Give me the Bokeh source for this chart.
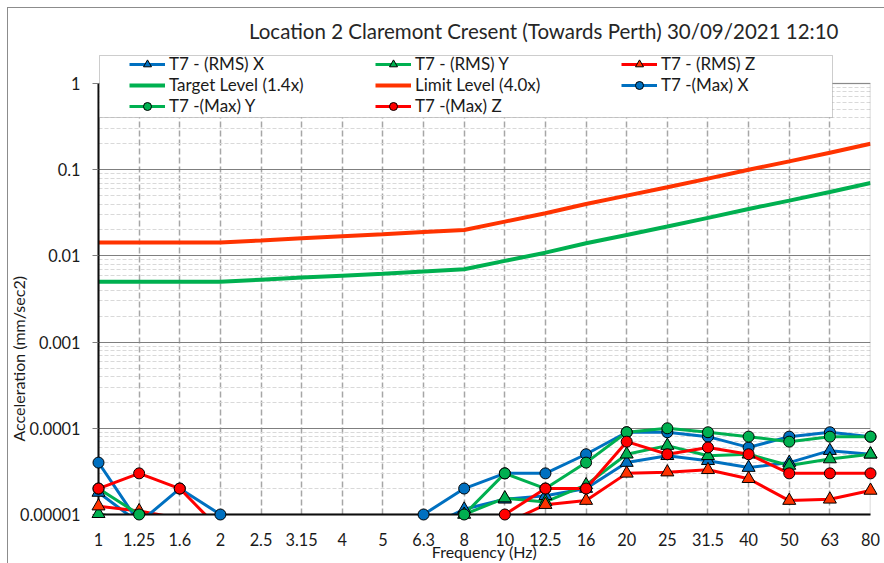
import math
from bokeh.plotting import figure
from bokeh.models import (Range1d, FixedTicker, Legend, LegendItem, Title,
                          BoxAnnotation, ColumnDataSource, InlineStyleSheet)
from bokeh.embed import file_html
from bokeh.resources import INLINE

# ---------------- data ----------------
freq_labels = ["1", "1.25", "1.6", "2", "2.5", "3.15", "4", "5", "6.3", "8",
               "10", "12.5", "16", "20", "25", "31.5", "40", "50", "63", "80"]

rms_x = [1.8e-5, 8e-6, 5e-6, 5e-6, 5e-6, 5e-6, 5e-6, 5e-6, 6.8e-6, 1.15e-5,
         1.5e-5, 1.65e-5, 2.0e-5, 4.0e-5, 4.8e-5, 4.2e-5, 3.5e-5, 4.0e-5, 5.5e-5, 5.0e-5]
rms_y = [1.02e-5, 8e-6, 5e-6, 5e-6, 5e-6, 5e-6, 5e-6, 5e-6, 5e-6, 1.0e-5,
         1.55e-5, 1.4e-5, 2.2e-5, 5.0e-5, 6.3e-5, 4.8e-5, 5.0e-5, 3.7e-5, 4.4e-5, 5.0e-5]
rms_z = [1.25e-5, 1.1e-5, 9e-6, 5e-6, 5e-6, 5e-6, 5e-6, 5e-6, 5e-6, 5e-6,
         7.8e-6, 1.3e-5, 1.45e-5, 3.0e-5, 3.1e-5, 3.3e-5, 2.6e-5, 1.45e-5, 1.5e-5, 1.9e-5]
target = [0.005, 0.005, 0.005, 0.005, 0.0053, 0.0056, 0.0059, 0.0062, 0.0066, 0.007,
          0.00875, 0.0109, 0.014, 0.0175, 0.0219, 0.0276, 0.035, 0.0438, 0.0551, 0.07]
limit = [0.0143, 0.0143, 0.0143, 0.0143, 0.0151, 0.016, 0.0169, 0.0178, 0.0189, 0.02,
         0.025, 0.0313, 0.04, 0.05, 0.0625, 0.0788, 0.1, 0.125, 0.1575, 0.2]
max_x = [4e-5, 8e-6, 2e-5, 1e-5, 8e-6, 8e-6, 8e-6, 8e-6, 1e-5, 2e-5,
         3e-5, 3e-5, 5e-5, 9e-5, 9e-5, 8e-5, 6e-5, 8e-5, 9e-5, 8e-5]
max_y = [2e-5, 1e-5, 8e-6, 5e-6, 5e-6, 5e-6, 5e-6, 5e-6, 5e-6, 1e-5,
         3e-5, 2e-5, 4e-5, 9e-5, 1e-4, 9e-5, 8e-5, 7e-5, 8e-5, 8e-5]
max_z = [2e-5, 3e-5, 2e-5, 6.6e-6, 5e-6, 5e-6, 5e-6, 5e-6, 5e-6, 5e-6,
         1e-5, 2e-5, 2e-5, 7e-5, 5e-5, 6e-5, 5e-5, 3e-5, 3e-5, 3e-5]

y_ticks = [1e-5, 1e-4, 1e-3, 1e-2, 1e-1, 1.0]
y_tick_labels = ["0.00001", "0.0001", "0.001", "0.01", "0.1", "1"]
Y_MIN, Y_MAX = 1e-5, 1.0

title_text = "Location 2 Claremont Cresent (Towards Perth) 30/09/2021 12:10"
FONT = "Lato"

BLUE = "#0070C0"
GREEN = "#00B050"
RED = "#FF0000"
ORANGE = "#FF3300"

# ---------------- figure ----------------
# the frame reaches a bit above the top of the value axis so that the legend,
# which overlaps the top of the plot area, can be drawn inside it
p = figure(width=884, height=563, title=title_text,
           x_range=Range1d(0, len(freq_labels) - 1), y_range=Range1d(Y_MIN, 2.547),
           y_axis_type="log", output_backend="svg", toolbar_location=None,
           min_border_left=98, min_border_right=14, min_border_top=48,
           min_border_bottom=49)
p.background_fill_color = "white"
p.border_fill_color = "white"
p.outline_line_color = None

p.title.text_font = FONT
p.title.text_font_size = "20.5px"
p.title.text_font_style = "normal"
p.title.text_color = "#262626"
p.title.align = "right"
p.title.offset = 32
p.title.standoff = 12

xs = list(range(len(freq_labels)))
minor = [m * 10.0 ** e for e in range(-5, 0) for m in range(2, 10)]
yt = FixedTicker(ticks=y_ticks, minor_ticks=minor)
xt = FixedTicker(ticks=xs)

xax = p.xaxis[0]
yax = p.yaxis[0]
xax.ticker = xt
p.xgrid.ticker = xt
yax.ticker = yt
p.ygrid.ticker = yt
xax.major_label_overrides = {i: lab for i, lab in enumerate(freq_labels)}
yax.major_label_overrides = {t: lab for t, lab in zip(y_ticks, y_tick_labels)}
yax.bounds = (Y_MIN, Y_MAX)

for ax in (xax, yax):
    ax.axis_line_color = "black"
    ax.axis_line_width = 2
    ax.minor_tick_line_color = None
    ax.major_label_text_font = FONT
    ax.major_label_text_font_size = "16.3px"
    ax.major_label_text_color = "#1a1a1a"
xax.major_tick_line_color = None
xax.major_label_standoff = 12
xax.axis_label = "Frequency (Hz)"
xax.axis_label_standoff = -7
xax.axis_label_text_font = FONT
xax.axis_label_text_font_size = "16px"
xax.axis_label_text_font_style = "normal"
xax.axis_label_text_color = "#1a1a1a"
yax.major_tick_line_color = "#7f7f7f"
yax.major_tick_out = 6
yax.major_tick_in = 0
yax.major_label_standoff = 12

# value-axis title, placed on the lower part of the axis as in the original
p.add_layout(Title(text="Acceleration (mm/sec2)", align="left", offset=73, standoff=-22,
                   text_font=FONT, text_font_size="16px", text_font_style="normal",
                   text_color="#1a1a1a"), "left")

p.ygrid.grid_line_color = "#7f7f7f"
p.ygrid.grid_line_width = 1.2
p.ygrid.minor_grid_line_color = "#d9d9d9"
p.ygrid.minor_grid_line_dash = "4 2"
p.ygrid.minor_grid_line_width = 1
p.xgrid.grid_line_color = "#a6a6a6"
p.xgrid.grid_line_dash = "6 3"
p.xgrid.grid_line_width = 1.5

# blank the strip of the frame above the value axis maximum
p.add_layout(BoxAnnotation(bottom=Y_MAX * 1.01, fill_color="white", fill_alpha=1.0,
                           line_color=None, level="underlay"))

series = [
    ("T7 - (RMS) X", rms_x, BLUE, BLUE, "triangle", 3),
    ("T7 - (RMS) Y", rms_y, GREEN, GREEN, "triangle", 3),
    ("T7 - (RMS) Z", rms_z, RED, ORANGE, "triangle", 3),
    ("Target Level (1.4x)", target, GREEN, None, None, 4),
    ("Limit Level (4.0x)", limit, ORANGE, None, None, 4),
    ("T7 -(Max) X", max_x, BLUE, BLUE, "circle", 3),
    ("T7 -(Max) Y", max_y, GREEN, GREEN, "circle", 3),
    ("T7 -(Max) Z", max_z, RED, RED, "circle", 3),
]

items = []
for name, ys, lc, fc, marker, lw in series:
    ln = p.line(x=xs, y=ys, line_color=lc, line_width=lw)
    rends = [ln]
    if marker is not None:
        # markers are only drawn for points inside the value axis (as in the original)
        vis = [(x, v) for x, v in zip(xs, ys) if v >= 0.99 * Y_MIN]
        src = ColumnDataSource(dict(x=[a for a, _ in vis], y=[b for _, b in vis]))
        sc = p.scatter(x="x", y="y", source=src, marker=marker,
                       size=13 if marker == "triangle" else 11,
                       fill_color=fc, line_color="black", line_width=1,
                       level="overlay")
        rends.append(sc)
    items.append(LegendItem(label=name, renderers=rends))

# plot-area border (top / right edges)
p.add_layout(BoxAnnotation(left=0, right=len(freq_labels) - 1, bottom=Y_MIN, top=Y_MAX,
                           fill_alpha=0, line_color="#595959", line_width=1.5))

# legend frame
p.add_layout(BoxAnnotation(left=1, right=734, top=459, bottom=397,
                           left_units="screen", right_units="screen",
                           top_units="screen", bottom_units="screen",
                           fill_color="white", fill_alpha=1.0,
                           line_color="#595959", line_width=1))

legend = Legend(items=items, location=(31, 398), orientation="horizontal", ncols=3,
                glyph_width=36, glyph_height=20, label_height=20, spacing=0,
                label_standoff=4, label_width=206, padding=0, margin=0,
                border_line_color=None, background_fill_alpha=0,
                label_text_font=FONT, label_text_font_size="17px",
                label_text_color="#1a1a1a")
p.add_layout(legend)

# outer chart-area border (top and left edges visible in the original)
p.stylesheets = [InlineStyleSheet(css=(
    ":host::after{content:'';position:absolute;left:7px;top:7px;right:0;bottom:0;"
    "border-left:1.5px solid #8c8c8c;border-top:1.5px solid #8c8c8c;"
    "pointer-events:none;z-index:10;}"))]

open("out.html", "w").write(file_html(p, INLINE))
